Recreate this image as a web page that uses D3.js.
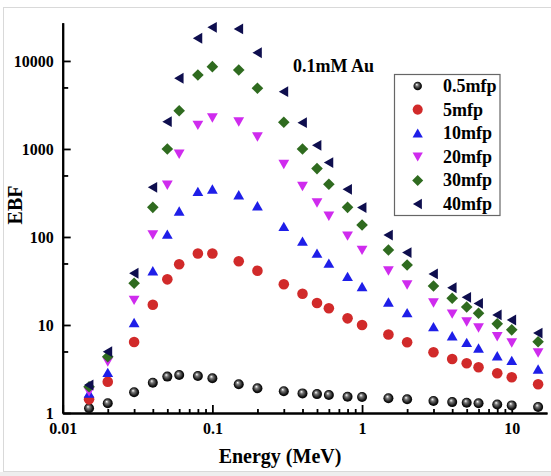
<!DOCTYPE html>
<html>
<head>
<meta charset="utf-8">
<script src="https://cdn.jsdelivr.net/npm/d3@7"></script>
<style>
  body { margin: 0; background: #fff; }
  svg text { font-family: "Liberation Serif", "Times New Roman", serif; font-weight: bold; }
</style>
</head>
<body>
<div id="chart"></div>
<script>
// energies (MeV)
const energy = [0.015, 0.02, 0.03, 0.04, 0.05, 0.06, 0.08, 0.1, 0.15, 0.2, 0.3, 0.4, 0.5, 0.6, 0.8, 1, 1.5, 2, 3, 4, 5, 6, 8, 10, 15];

const ebf05 = [1.13, 1.29, 1.72, 2.21, 2.59, 2.7, 2.63, 2.48, 2.12, 1.91, 1.77, 1.67, 1.64, 1.6, 1.53, 1.52, 1.47, 1.43, 1.37, 1.33, 1.31, 1.29, 1.25, 1.22, 1.17];
const ebf5 = [1.43, 2.27, 6.4, 17, 33, 49, 65, 65, 53, 41.4, 29, 22.6, 17.8, 15.5, 11.9, 10, 7.8, 6.36, 4.9, 4.1, 3.67, 3.31, 2.83, 2.55, 2.12];
const ebf10 = [1.67, 2.87, 10.6, 41, 107, 196, 327, 348, 300, 225, 131, 89, 65, 50, 35.4, 27.2, 18.1, 13.7, 9.5, 7.5, 6.3, 5.43, 4.44, 3.93, 3.14];
const ebf20 = [1.75, 3.83, 19.2, 106, 390, 877, 1870, 2270, 2040, 1380, 670, 377, 245, 173, 103, 71, 41.4, 28.7, 17.9, 13.4, 10.9, 9.3, 7.4, 6.3, 4.84];
const ebf30 = [1.99, 4.36, 29.8, 217, 1000, 2720, 6930, 8610, 7900, 4900, 2010, 1000, 598, 397, 217, 137, 71, 48, 27.7, 20.1, 16, 13.6, 10.3, 8.8, 6.46];
const ebf40 = [2.08, 4.98, 38.7, 367, 2040, 6360, 18100, 24100, 23100, 12400, 4480, 1990, 1100, 700, 348, 216, 105, 66.5, 38, 26.5, 20.6, 17.6, 13, 11.4, 8.1];

const seriesNames = ["0.5mfp", "5mfp", "10mfp", "20mfp", "30mfp", "40mfp"];
const seriesValues = [ebf05, ebf5, ebf10, ebf20, ebf30, ebf40];
const seriesColors = ["#000", "#d12a2a", "#1e1ee8", "#cf2bee", "#2f6b1f", "#0e0e4e"];
const seriesShapes = ["sphere", "circle", "up", "down", "diamond", "left"];

const xMajor = [0.01, 0.1, 1, 10];
const xMinor = [0.02, 0.03, 0.04, 0.05, 0.06, 0.07, 0.08, 0.09, 0.2, 0.3, 0.4, 0.5, 0.6, 0.7, 0.8, 0.9, 2, 3, 4, 5, 6, 7, 8, 9];
const yMajor = [1, 10, 100, 1000, 10000];
const yMinor = [5, 50, 500, 5000];

const width = 551, height = 476;
const svg = d3.select("#chart").append("svg")
  .attr("width", width).attr("height", height);

// picture frame
svg.append("rect").attr("x", 0).attr("y", 472).attr("width", width).attr("height", 4).attr("fill", "#eeeeee");
svg.append("rect").attr("x", 3.5).attr("y", 7.5).attr("width", 560).attr("height", 464)
  .attr("fill", "none").attr("stroke", "#d9d9d9");

const x = d3.scaleLog().domain([0.01, 17.2]).range([62.7, 547]);
const y = d3.scaleLog().domain([1, 27200]).range([413, 22.7]);

function markerPath(shape) {
  if (shape === "up") return "M0,-5L5.4,4.4L-5.4,4.4Z";
  if (shape === "down") return "M0,5L5.4,-4.4L-5.4,-4.4Z";
  if (shape === "left") return "M-5,0L4.4,-5.4L4.4,5.4Z";
  if (shape === "diamond") return "M0,-5.8L5.8,0L0,5.8L-5.8,0Z";
  return null;
}

const defs = svg.append("defs");
const grad = defs.append("radialGradient").attr("id", "sphere")
  .attr("cx", "50%").attr("cy", "50%").attr("r", "55%").attr("fx", "38%").attr("fy", "32%");
grad.append("stop").attr("offset", "0%").attr("stop-color", "#ffffff");
grad.append("stop").attr("offset", "30%").attr("stop-color", "#777");
grad.append("stop").attr("offset", "75%").attr("stop-color", "#111");
grad.append("stop").attr("offset", "100%").attr("stop-color", "#000");

function drawMarker(g, shape, color, scale) {
  if (shape === "sphere") {
    return g.append("circle").attr("r", 5 * scale).attr("fill", "url(#sphere)");
  }
  if (shape === "circle") {
    return g.append("circle").attr("r", 5.3 * scale).attr("fill", color);
  }
  return g.append("path").attr("d", markerPath(shape))
    .attr("transform", `scale(${scale})`).attr("fill", color);
}

// axes
const axisStyle = g => {
  g.select(".domain").attr("stroke", "#000").attr("stroke-width", 2);
  g.selectAll(".tick line").attr("stroke", "#000").attr("stroke-width", 1.8);
  g.selectAll(".tick text").attr("fill", "#000").style("font-size", "16px")
    .style("font-family", "'Liberation Serif', serif").style("font-weight", "bold");
};

svg.append("g").attr("transform", `translate(0,413)`)
  .call(d3.axisBottom(x).tickValues(xMinor).tickSizeInner(-4).tickSizeOuter(0).tickFormat(""))
  .call(axisStyle);
svg.append("g").attr("transform", `translate(0,413)`)
  .call(d3.axisBottom(x).tickValues(xMajor).tickSizeInner(-8).tickSizeOuter(0).tickPadding(10)
    .tickFormat(d3.format("")))
  .call(axisStyle);

svg.append("g").attr("transform", `translate(62.7,0)`)
  .call(d3.axisLeft(y).tickValues(yMinor).tickSizeInner(-5.5).tickSizeOuter(0).tickFormat(""))
  .call(axisStyle);
svg.append("g").attr("transform", `translate(62.7,0)`)
  .call(d3.axisLeft(y).tickValues(yMajor).tickSizeInner(-8).tickSizeOuter(0).tickPadding(9)
    .tickFormat(d3.format("d")))
  .call(axisStyle);

// data
seriesValues.forEach((vals, i) => {
  const g = svg.append("g");
  energy.forEach((e, j) => {
    const m = g.append("g").attr("transform", `translate(${x(e)},${y(vals[j])})`);
    drawMarker(m, seriesShapes[i], seriesColors[i], 1);
  });
});

// titles
svg.append("text").attr("x", 280).attr("y", 463).attr("text-anchor", "middle")
  .style("font-size", "20px").text("Energy (MeV)");
svg.append("text").attr("transform", "translate(22,205) rotate(-90)").attr("text-anchor", "middle")
  .style("font-size", "20px").text("EBF");
svg.append("text").attr("x", 293).attr("y", 72).style("font-size", "18px").text("0.1mM Au");

// legend
const legend = svg.append("g");
legend.append("rect").attr("x", 394.5).attr("y", 74.5).attr("width", 105.5).attr("height", 141)
  .attr("fill", "#fff").attr("stroke", "#666").attr("stroke-width", 1.2);
seriesNames.forEach((name, i) => {
  const ry = 86 + i * 23.6;
  const m = legend.append("g").attr("transform", `translate(417.7,${ry})`);
  drawMarker(m, seriesShapes[i], seriesColors[i], i === 0 ? 0.85 : 0.95);
  legend.append("text").attr("x", 443).attr("y", ry + 6).style("font-size", "18px").text(name);
});
</script>
</body>
</html>
